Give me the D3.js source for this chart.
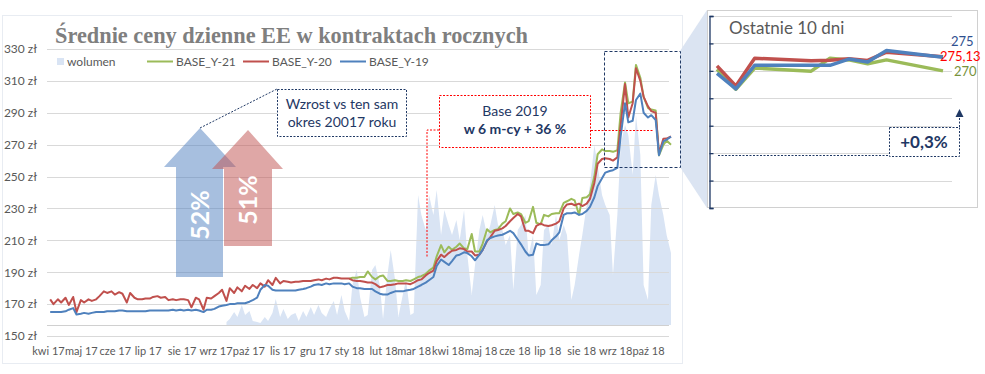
<!DOCTYPE html>
<html><head><meta charset="utf-8">
<script src="https://cdn.jsdelivr.net/npm/d3@7"></script>
<style>
body{margin:0;background:#fff}
svg{display:block}
text{font-family:Lato,"Liberation Sans",sans-serif}
</style>
</head><body>
<svg id="c" width="985" height="374"></svg>
<script>
// ---------- DATA ----------
const monthNames = ["sty","lut","mar","kwi","maj","cze","lip","sie","wrz","paź","lis","gru"];
const yTicks = [150,170,190,210,230,250,270,290,310,330];
const seriesNames = ["wolumen","BASE_Y-21","BASE_Y-20","BASE_Y-19"];

// sampled on Mondays and Thursdays from 2017-04-03 to 2018-10-22
const baseY20 = [
173,170, 173,171, 174,169.5, 174.5,165, 172.5,171, 173,172, 173,175, 178,177, 178,176, 177.5,176.5,
171,177, 174,173, 173,173.5, 173.5,174.5, 175,174, 174.5,172.5, 173,172.5, 173,173, 172.5,168, 174,173,
166.5,174, 173.5,175, 177,179, 172,180, 177,180.5, 178,181.5, 179.5,182, 180,183, 181,185, 182,186.5,
183,184.5, 184,183.5, 184,184, 184.5,184.5, 184.5,185, 185.5,185, 186,185.5, 186.5,186.5, 186,186, 186,185,
184.5,184.5, 184,183.5, 183.5,182.5, 180.5,181, 182,182, 182.5,183, 183,183, 182.5,183.5, 185,185.5, 188,189.5,
191,197, 201,199.5, 202,203.5, 204,205, 204.5,203, 203,200.5, 201,204, 209.5,212, 216,216.5, 217.5,219,
222,224, 226.5,225, 216,216, 214.5,219, 220.5,219.5, 219,219.5, 220.5,222, 230,232.5, 233,232, 233,231.5,
233,236, 246,258, 261,261.5, 261,260, 262,282, 308,287, 296,318, 310,300, 294,291, 290,264.5,
273.7,273.8, 275.13];

const baseY19 = [
165,165, 165,165, 165.5,166.5, 167.5,163.5, 164,164.5, 164,164.5, 165,165, 165,165.5, 165.5,165.5, 166,166,
165.5,165.5, 165.5,165.5, 165.5,165.5, 166,166, 166,166, 166,166, 166.5,166, 166.5,166, 166.5,166, 166.5,166,
165,166.5, 166.5,167, 168.5,169, 169.5,170, 170,170.5, 170.5,170.5, 171.5,172.5, 174,179, 182,181.5, 179,178.5,
178.5,178.5, 178.5,178.5, 178.5,179, 179.5,180, 181,182, 182.5,182, 183,182.5, 183,183, 183,182.5, 183,181,
180,180, 179.5,179.5, 179.5,178, 176.5,176, 176,177, 178,178, 178,178.5, 179,179.5, 181,182, 183.5,185,
187,194, 198,196.5, 194.5,197, 200.5,201, 202.5,202, 200,197.5, 201,204, 210,211.5, 212.5,213, 213.5,214.5,
216,214.5, 210.5,207.5, 203,200.5, 201,208, 207,207, 207.5,210, 212.5,215, 226,227, 227,227.5, 226,226.5,
228.5,231, 237,244, 249,252.5, 253.5,254, 255.5,275, 296,284, 285,298, 302,290, 287,288.5, 285.5,263.4,
272,273.2, 275];

// BASE_Y-21 starts on 2018-01-01 (sample index 78)
const greenStart = 78;
const baseY21 = [
186,186.5, 186.5,187, 187,190.5, 187,185.5, 187.5,188, 184.5,184.5, 185,184.5, 184.5,185, 184.5,185.5, 187,187.5,
189,191, 193,200, 207,202.5, 206,204, 206,208, 205,204.5, 214,203, 203,208, 217,215, 216.5,217,
220.5,222, 230,226.5, 227.5,226.5, 221,222, 231,221, 220,226, 225,226.5, 227,227, 233.5,234.5, 236,235,
226,236.5, 237,239, 250,264, 267,266, 266,265.5, 266.5,290, 309,296, 297,320, 312,300, 293,292,
291.5,263.3, 269.9,272.6, 270];

// volume starts 2017-09-11 (sample index 46)
const volStart = 46;
const wolumen = [
30,60, 130,80, 200,100, 140,40, 30,20, 80,40, 120,260, 80,160, 60,100, 120,40,
140,80, 180,100, 200,120, 80,160, 240,100, 300,140, 40,400, 550,280, 80,100, 550,600,
400,60, 500,750, 450,80, 300,450, 100,120, 1300,1100, 950,1300, 1100,1350, 900,1150, 1000,900,
1050,850, 1150,700, 300,600, 950,1100, 900,1000, 1200,1000, 950,800, 900,350, 950,1000, 1100,700,
900,300, 400,950, 1000,800, 1100,850, 1000,900, 250,400, 700,900, 1200,1400, 1800,1600, 1300,1200,
1100,500, 1100,1800, 2000,1900, 1500,2100, 1700,400, 250,1200, 1500,1300, 1100,900, 720];

// last 10 days
const insetDates = ["2018-10-10","2018-10-11","2018-10-12","2018-10-15","2018-10-16","2018-10-17","2018-10-18","2018-10-19","2018-10-22"];
const insetY19 = [269.1,263.4,272.0,272.0,272.0,274.3,273.2,277.4,275.0];
const insetY20 = [271.8,264.5,274.6,273.7,273.9,274.4,273.8,276.8,275.13];
const insetY21 = [270.6,263.3,271.0,269.9,274.6,274.0,272.6,274.0,270.0];
const insetTicks = [220,230,240,250,260,270,280,290];
const insetLabels = ["275","275,13","270"];

// ---------- DRAW ----------
const svg = d3.select("#c");
const C = {vol:"#d9e4f4", g:"#9bbb59", r:"#c0504d", b:"#4f81bd", txt:"#595959", navy:"#1f3864", grid:"#d9d9d9"};

const dates = [];
for (let k = 0; k <= 81; k++) {
  dates.push(new Date(2017, 3, 3 + 7 * k));
  if (k < 81) dates.push(new Date(2017, 3, 6 + 7 * k));
}

const x = d3.scaleTime().domain([new Date(2017,3,1), new Date(2018,9,22)]).range([48, 671]);
const y = d3.scaleLinear().domain([150, 330]).range([336, 49]);
const yv = d3.scaleLinear().domain([0, 2800]).range([325, 45]);

// outer border
svg.append("rect").attr("x",2.5).attr("y",15.5).attr("width",680).attr("height",348)
  .attr("fill","#fff").attr("stroke","#e8ecf2");

// callout polygon to inset
svg.append("polygon").attr("points","680,51 707,10 707,208 680,167").attr("fill","#dbe4f2");

// volume area
const volData = wolumen.map((v,i)=>({d:dates[volStart+i], v}));
svg.append("path").datum(volData).attr("fill",C.vol)
  .attr("d", d3.area().x(p=>x(p.d)).y0(yv(0)).y1(p=>yv(p.v)));

// gridlines
svg.append("g").selectAll("line").data(yTicks).join("line")
  .attr("x1",47).attr("x2",669).attr("y1",d=>Math.round(y(d))+0.5).attr("y2",d=>Math.round(y(d))+0.5)
  .attr("stroke",C.grid);
svg.append("line").attr("x1",47).attr("x2",669).attr("y1",325.5).attr("y2",325.5).attr("stroke","#d0d0d0");

// y axis
const ya = svg.append("g").attr("transform","translate(37,0)")
  .call(d3.axisLeft(y).tickValues(yTicks).tickSize(0).tickPadding(0).tickFormat(d=>d+" zł"));
ya.select(".domain").remove();
ya.selectAll("text").attr("fill",C.txt).style("font-size","12px").style("font-family","Lato");

// x axis
const months = d3.timeMonth.range(new Date(2017,3,1), new Date(2018,9,2));
const xa = svg.append("g").attr("transform","translate(0,344)")
  .call(d3.axisBottom(x).tickValues(months).tickSize(0).tickPadding(3)
    .tickFormat(d=>monthNames[d.getMonth()]+" "+String(d.getFullYear()).slice(2)));
xa.select(".domain").remove();
xa.selectAll("text").attr("fill",C.txt).style("font-size","11px").style("font-family","Lato");

// lines
const line = d3.line().defined(p=>p.v!=null).x(p=>x(p.d)).y(p=>y(p.v));
const gData = baseY21.map((v,i)=>({d:dates[greenStart+i], v}));
const rData = baseY20.map((v,i)=>({d:dates[i], v}));
const bData = baseY19.map((v,i)=>({d:dates[i], v}));
[[gData,C.g],[rData,C.r],[bData,C.b]].forEach(([dd,c])=>{
  svg.append("path").datum(dd).attr("fill","none").attr("stroke",c).attr("stroke-width",2)
    .attr("stroke-linejoin","round").attr("d",line);
});

// title
const title = svg.append("text").attr("x",55).attr("y",43)
  .style("font-family","'Liberation Serif',serif").style("font-weight","bold").style("font-size","20px")
  .attr("fill","#7f7f7f").text("Średnie ceny dzienne EE w kontraktach rocznych");
const tl = title.node().getComputedTextLength();
title.style("font-size", (20*473/tl).toFixed(2)+"px");

// legend
const lg = svg.append("g").style("font-size","12px").attr("fill",C.txt);
lg.append("rect").attr("x",57).attr("y",58).attr("width",7).attr("height",7).attr("fill",C.vol);
lg.append("text").attr("x",67).attr("y",66).text(seriesNames[0]);
[[147,C.g,seriesNames[1]],[243,C.r,seriesNames[2]],[340,C.b,seriesNames[3]]].forEach(([lx,c,n])=>{
  lg.append("line").attr("x1",lx).attr("x2",lx+26).attr("y1",61.5).attr("y2",61.5).attr("stroke",c).attr("stroke-width",2);
  lg.append("text").attr("x",lx+29).attr("y",66).text(n);
});

// big arrows
svg.append("polygon").attr("points","200,128 236,167 223,167 223,277 176,277 176,167 164,167")
  .attr("fill","#4f7fc0").attr("fill-opacity",0.5);
svg.append("polygon").attr("points","248,130 283,169 272,169 272,246 224,246 224,169 212,169")
  .attr("fill","#c0504d").attr("fill-opacity",0.5);
svg.append("text").attr("transform","translate(200,215) rotate(-90)").attr("text-anchor","middle")
  .attr("dy","0.35em").attr("fill","#fff").style("font-weight","bold").style("font-size","25px").text("52%");
svg.append("text").attr("transform","translate(248,200) rotate(-90)").attr("text-anchor","middle")
  .attr("dy","0.35em").attr("fill","#fff").style("font-weight","bold").style("font-size","25px").text("51%");

// "Wzrost" callout
svg.append("line").attr("x1",200).attr("y1",128).attr("x2",277).attr("y2",89)
  .attr("stroke",C.navy).attr("stroke-dasharray","2,1.5");
svg.append("rect").attr("x",277.5).attr("y",89.5).attr("width",129).attr("height",47)
  .attr("fill","#fff").attr("stroke",C.navy).attr("stroke-dasharray","2,1.5");
svg.append("text").attr("x",342).attr("y",109).attr("text-anchor","middle").attr("fill",C.navy)
  .style("font-size","14px").text("Wzrost vs ten sam");
svg.append("text").attr("x",342).attr("y",127).attr("text-anchor","middle").attr("fill",C.navy)
  .style("font-size","14px").text("okres 20017 roku");

// "Base 2019" callout
const red = "#ff0000";
svg.append("polyline").attr("points","439,130 427,130 427,257").attr("fill","none")
  .attr("stroke",red).attr("stroke-dasharray","2,1.5");
svg.append("line").attr("x1",591).attr("x2",654).attr("y1",130.5).attr("y2",130.5)
  .attr("stroke",red).attr("stroke-dasharray","2,1.5");
svg.append("rect").attr("x",439.5).attr("y",95.5).attr("width",151).attr("height",52)
  .attr("fill","#fff").attr("stroke",red).attr("stroke-dasharray","2,1.5");
svg.append("text").attr("x",515).attr("y",116).attr("text-anchor","middle").attr("fill",C.navy)
  .style("font-size","14px").text("Base 2019");
svg.append("text").attr("x",515).attr("y",134).attr("text-anchor","middle").attr("fill",C.navy)
  .style("font-size","14px").style("font-weight","bold").text("w 6 m-cy + 36 %");

// zoom rectangle in main chart
svg.append("rect").attr("x",604.5).attr("y",51.5).attr("width",76).attr("height",116)
  .attr("fill","none").attr("stroke",C.navy).attr("stroke-dasharray","3,2");

// ---------- INSET ----------
const parse = d3.timeParse("%Y-%m-%d");
const ix = d3.scaleTime().domain([parse(insetDates[0]), parse(insetDates[insetDates.length-1])]).range([717, 943]);
const iy = d3.scaleLinear().domain([220, 290]).range([208, 16]);
svg.append("rect").attr("x",707.5).attr("y",10.5).attr("width",270).attr("height",197)
  .attr("fill","#fff").attr("stroke","#d0d0d0");
svg.append("g").selectAll("line").data(insetTicks.filter(t=>t>220)).join("line")
  .attr("x1",709).attr("x2",952).attr("y1",d=>Math.round(iy(d))+0.5).attr("y2",d=>Math.round(iy(d))+0.5)
  .attr("stroke",C.grid);
const iax = svg.append("g").attr("transform","translate(709.5,0)")
  .call(d3.axisLeft(iy).tickValues(insetTicks).tickSize(-4).tickFormat(""));
iax.selectAll("line,path").attr("stroke",C.navy).attr("stroke-width",1.3);
svg.append("text").attr("x",729).attr("y",34).attr("fill",C.txt).style("font-size","17px").text("Ostatnie 10 dni");

const iline = d3.line().x(p=>ix(p.d)).y(p=>iy(p.v));
[[insetY21,C.g],[insetY20,C.r],[insetY19,C.b]].forEach(([arr,c])=>{
  svg.append("path").datum(arr.map((v,i)=>({d:parse(insetDates[i]), v})))
    .attr("fill","none").attr("stroke",c).attr("stroke-width",3.5).attr("stroke-linejoin","round").attr("d",iline);
});
svg.append("text").attr("x",951).attr("y",46).attr("fill","#2f4f8f").style("font-size","13px").text(insetLabels[0]);
svg.append("text").attr("x",940).attr("y",61).attr("fill",red).style("font-size","13px").text(insetLabels[1]);
svg.append("text").attr("x",954).attr("y",76).attr("fill","#76923c").style("font-size","13px").text(insetLabels[2]);

// +0,3% box
svg.append("line").attr("x1",718).attr("x2",889).attr("y1",155.5).attr("y2",155.5)
  .attr("stroke",C.navy).attr("stroke-dasharray","2,1.5");
svg.append("rect").attr("x",889.5).attr("y",127.5).attr("width",70).attr("height",29)
  .attr("fill","#fff").attr("stroke",C.navy).attr("stroke-dasharray","2,1.5");
svg.append("line").attr("x1",959.5).attr("x2",959.5).attr("y1",127).attr("y2",116)
  .attr("stroke",C.navy).attr("stroke-dasharray","2,1.5");
svg.append("polygon").attr("points","959.5,109 955.5,117 963.5,117").attr("fill",C.navy);
svg.append("text").attr("x",924).attr("y",148).attr("text-anchor","middle").attr("fill",C.navy)
  .style("font-size","17px").style("font-weight","bold").text("+0,3%");
</script>
</body></html>
